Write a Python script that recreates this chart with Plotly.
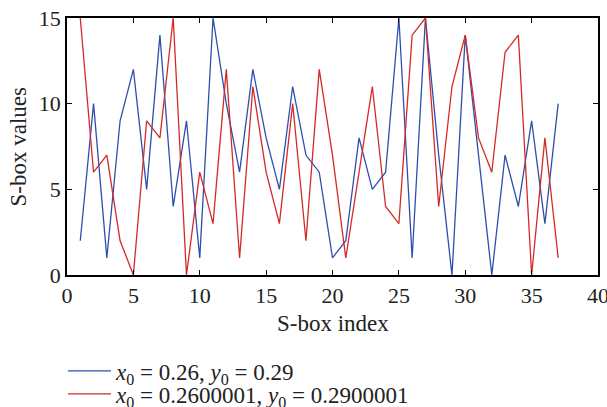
import plotly.graph_objects as go

index = list(range(1, 38))
series_a = [2, 10, 1, 9, 12, 5, 14, 4, 9, 1, 15, 10, 6, 12, 8, 5, 11, 7, 6, 1,
            2, 8, 5, 6, 15, 1, 15, 7, 0, 14, 7, 0, 7, 4, 9, 3, 10]
series_b = [15, 6, 7, 2, 0, 9, 8, 15, 0, 6, 3, 12, 1, 11, 6, 3, 10, 2, 12, 7,
            1, 6, 11, 4, 3, 14, 15, 4, 11, 14, 8, 6, 13, 14, 0, 8, 1]
name_a = "<i>x</i><sub>0</sub> = 0.26, <i>y</i><sub>0</sub> = 0.29"
name_b = "<i>x</i><sub>0</sub> = 0.2600001, <i>y</i><sub>0</sub> = 0.2900001"
x_ticks = [0, 5, 10, 15, 20, 25, 30, 35, 40]
y_ticks = [0, 5, 10, 15]
x_title = "S-box index"
y_title = "S-box values"

FONT = "Liberation Serif, Times New Roman, serif"
TXT = "#222222"

fig = go.Figure()
fig.add_trace(go.Scatter(x=index, y=series_a, mode="lines", name=name_a,
                         line=dict(color="#2f4fae", width=1.3), legend="legend"))
fig.add_trace(go.Scatter(x=index, y=series_b, mode="lines", name=name_b,
                         line=dict(color="#d42a26", width=1.3), legend="legend2"))

axis_common = dict(showline=True, linecolor="black", linewidth=1.5, mirror="ticks",
                   ticks="inside", ticklen=5, tickwidth=1.2, tickcolor="black",
                   showgrid=False, zeroline=False, automargin=False,
                   ticklabeloverflow="allow",
                   tickfont=dict(family=FONT, size=22, color=TXT))

leg_common = dict(xref="container", yref="container", xanchor="left", yanchor="middle",
                  orientation="v", font=dict(family=FONT, size=23, color=TXT),
                  bgcolor="rgba(0,0,0,0)", itemwidth=43, borderwidth=0)

fig.update_layout(
    width=607, height=407,
    margin=dict(l=67, r=9, t=18, b=132, autoexpand=False),
    paper_bgcolor="white", plot_bgcolor="white",
    font=dict(family=FONT, size=22, color=TXT),
    xaxis=dict(range=[0, 40], tickvals=x_ticks, **axis_common),
    yaxis=dict(range=[0, 15], tickvals=y_ticks, **axis_common),
    legend=dict(x=63 / 607, y=1 - 371 / 407, **leg_common),
    legend2=dict(x=63 / 607, y=1 - 394 / 407, **leg_common),
    showlegend=True,
    annotations=[
        dict(text=x_title, xref="paper", yref="paper", x=0.5, y=(275 - 323) / 257,
             xanchor="center", yanchor="middle", showarrow=False,
             font=dict(family=FONT, size=23, color=TXT)),
        dict(text=y_title, xref="paper", yref="paper", x=(18 - 67) / 531, y=0.5,
             xanchor="center", yanchor="middle", showarrow=False, textangle=-90,
             font=dict(family=FONT, size=23, color=TXT)),
    ],
)

fig.write_html("out.html", config={"displayModeBar": False},
               post_script="document.body.style.margin='0';")
